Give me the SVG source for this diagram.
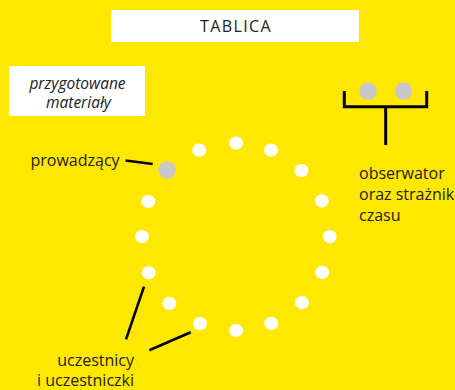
<svg xmlns="http://www.w3.org/2000/svg" width="455" height="390" viewBox="0 0 455 390">
<style>
.lbl{font-family:"Open Sans","Liberation Sans",sans-serif;font-size:16px;fill:#222}
.it{font-style:italic;text-anchor:middle;font-size:15.5px}
.dot{fill:#fff}
.gray{fill:#c8c8c8}
.ln{stroke:#000;stroke-width:2.6;fill:none}
.br{stroke:#000;stroke-width:3;fill:none}
</style>
<rect width="455" height="390" fill="#ffe800"/>
<g id="tablica">
<rect x="111" y="10" width="248" height="32" fill="#fff"/>
<text x="236" y="32.3" class="lbl" style="font-size:16px;letter-spacing:1.4px" text-anchor="middle">TABLICA</text>
</g>
<g id="materialy">
<rect x="9" y="66" width="136" height="50" fill="#fff"/>
<text class="lbl it"><tspan x="77.5" y="88.5">przygotowane</tspan><tspan x="78.5" y="108">materiały</tspan></text>
</g>
<g id="prowadzacy">
<circle class="gray" cx="167" cy="170" r="8.8"/>
<text class="lbl" x="30.5" y="166">prowadzący</text>
</g>
<g id="obserwator">
<circle class="gray" cx="368" cy="91" r="8.7"/>
<circle class="gray" cx="403.5" cy="91" r="8.7"/>
<text class="lbl"><tspan x="359" y="178.5">obserwator</tspan><tspan x="359" y="199.5">oraz strażnik</tspan><tspan x="359" y="220.5">czasu</tspan></text>
</g>
<g id="uczestnicy">
<ellipse class="dot" cx="236" cy="143" rx="7" ry="6.6"/>
<ellipse class="dot" cx="271" cy="150" rx="7" ry="6.6"/>
<ellipse class="dot" cx="301.5" cy="170.5" rx="7" ry="6.6"/>
<ellipse class="dot" cx="321.8" cy="200.8" rx="7" ry="6.6"/>
<ellipse class="dot" cx="329.7" cy="236.7" rx="7" ry="6.6"/>
<ellipse class="dot" cx="322.2" cy="272.3" rx="7" ry="6.6"/>
<ellipse class="dot" cx="302" cy="302.7" rx="7" ry="6.6"/>
<ellipse class="dot" cx="271.3" cy="323.3" rx="7" ry="6.6"/>
<ellipse class="dot" cx="236" cy="330.3" rx="7" ry="6.6"/>
<ellipse class="dot" cx="200" cy="323.7" rx="7" ry="6.6"/>
<ellipse class="dot" cx="169.3" cy="303.3" rx="7" ry="6.6"/>
<ellipse class="dot" cx="148.7" cy="272.7" rx="7" ry="6.6"/>
<ellipse class="dot" cx="142" cy="236.7" rx="7" ry="6.6"/>
<ellipse class="dot" cx="148.3" cy="201.3" rx="7" ry="6.6"/>
<ellipse class="dot" cx="199.3" cy="150" rx="7" ry="6.6"/>
<text class="lbl" text-anchor="end"><tspan x="134" y="366">uczestnicy</tspan><tspan x="134" y="386">i uczestniczki</tspan></text>
</g>
<g id="connectors">
<line class="ln" x1="125.5" y1="160.5" x2="152.7" y2="164"/>
<line class="ln" x1="144" y1="286.7" x2="126" y2="339.3"/>
<line class="ln" x1="149.3" y1="350.3" x2="190.7" y2="332.3"/>
<path class="br" d="M344.3 91V106.7H426.7V91M385.7 106.7V145"/>
</g>
</svg>
